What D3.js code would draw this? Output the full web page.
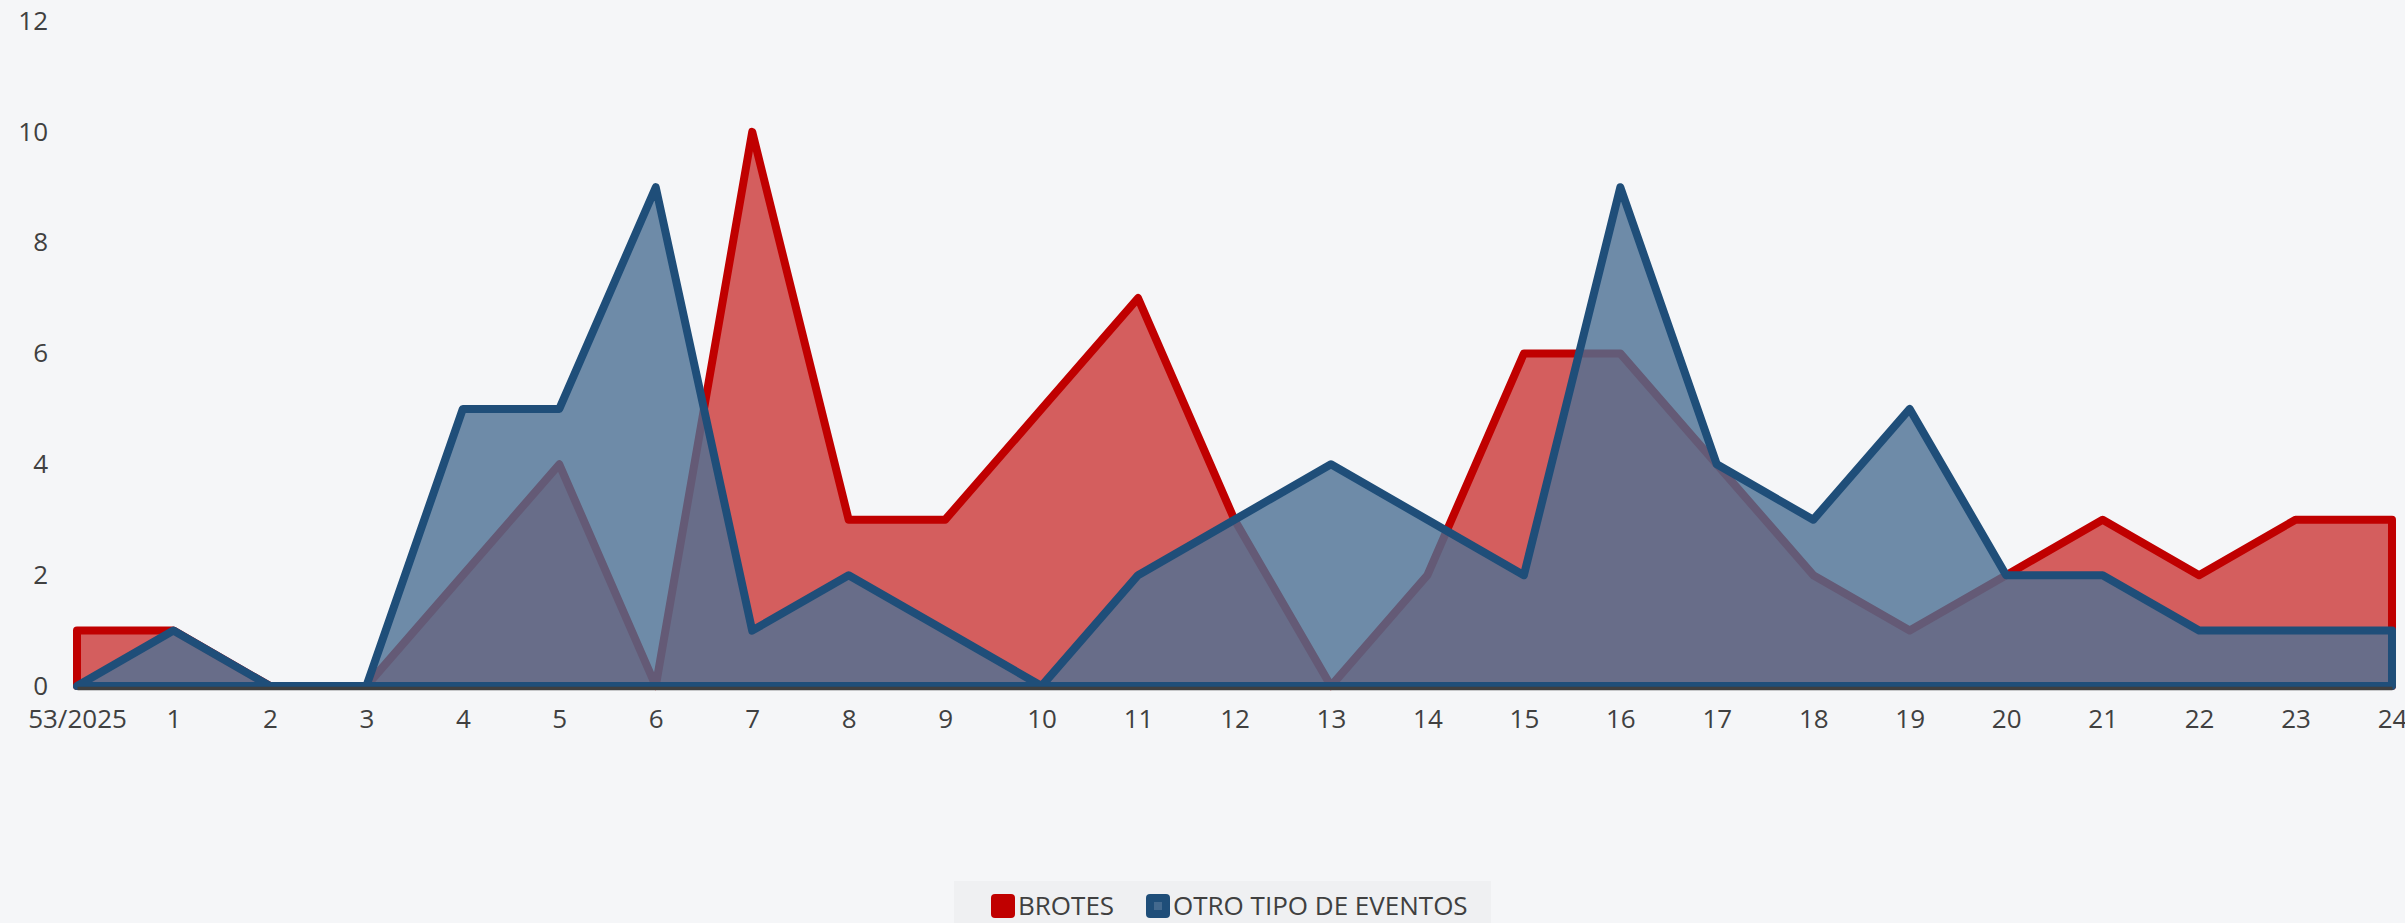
<!DOCTYPE html>
<html>
<head>
<meta charset="utf-8">
<script src="https://cdn.jsdelivr.net/npm/d3@7"></script>
<style>
  body { margin: 0; background: #f5f6f8; }
  svg { display: block; }
  text { font-family: "Open Sans", sans-serif; fill: #404040; }
</style>
</head>
<body>
<svg id="drawing_region"></svg>
<script>
// weeks on the x axis
const weeks = ["53/2025", "1", "2", "3", "4", "5", "6", "7", "8", "9", "10", "11", "12",
               "13", "14", "15", "16", "17", "18", "19", "20", "21", "22", "23", "24"];
const brotes = [1, 1, 0, 0, 2, 4, 0, 10, 3, 3, 5, 7, 3, 0, 2, 6, 6, 4, 2, 1, 2, 3, 2, 3, 3];
const otros  = [0, 1, 0, 0, 5, 5, 9, 1, 2, 1, 0, 2, 3, 4, 3, 2, 9, 4, 3, 5, 2, 2, 1, 1, 1];
const yTicks = [0, 2, 4, 6, 8, 10, 12];
const seriesNames = ["BROTES", "OTRO TIPO DE EVENTOS"];

const config = {
    width: 2405,
    height: 923,
    left: 77,
    right: 2392,
    top: 21,
    bottom: 686
};

const series = [
    { name: seriesNames[0], values: brotes, line: "#c00000", fill: "rgba(192,0,0,0.62)" },
    { name: seriesNames[1], values: otros,  line: "#1f4e79", fill: "rgba(76,112,148,0.8)" }
];

const svg = d3.select('#drawing_region')
    .attr('width', config.width)
    .attr('height', config.height);

const xscale = d3.scalePoint()
    .domain(weeks)
    .range([config.left, config.right]);

const yscale = d3.scaleLinear()
    .domain([0, 12])
    .range([config.bottom, config.top]);

const area = d3.area()
    .x((d, i) => xscale(weeks[i]))
    .y0(yscale(0))
    .y1(d => yscale(d));

// areas, red first, blue over it
svg.selectAll('path.area')
    .data(series)
    .enter()
    .append('path')
    .attr('class', 'area')
    .attr('d', d => area(d.values))
    .attr('fill', d => d.fill)
    .attr('stroke', d => d.line)
    .attr('stroke-width', 8)
    .attr('stroke-linejoin', 'round');

// x axis
const xaxis = d3.axisBottom(xscale).tickSize(0).tickPadding(22);
const gx = svg.append('g')
    .attr('transform', `translate(0, ${yscale(0) + 2})`)
    .call(xaxis);
gx.select('.domain')
    .attr('stroke', '#3f3f3f')
    .attr('stroke-width', 3.5);
gx.selectAll('text')
    .attr('font-size', 26)
    .style('fill', '#404040');

// y axis labels only
const yaxis = d3.axisLeft(yscale).tickValues(yTicks).tickSize(0).tickPadding(0);
const gy = svg.append('g')
    .attr('transform', `translate(48, 0)`)
    .call(yaxis);
gy.select('.domain').remove();
gy.selectAll('text')
    .attr('font-size', 26)
    .style('fill', '#404040');

// legend
const legend = svg.append('g');
legend.append('rect')
    .attr('x', 954).attr('y', 881)
    .attr('width', 537).attr('height', 42)
    .attr('fill', '#eff0f2');

const legendX = [991, 1146];
const item = legend.selectAll('g.item')
    .data(series)
    .enter()
    .append('g')
    .attr('class', 'item')
    .attr('transform', (d, i) => `translate(${legendX[i]}, 894)`);

item.append('rect')
    .attr('width', 24).attr('height', 24)
    .attr('rx', 4)
    .attr('fill', d => d.line);
item.append('rect')
    .attr('x', 8).attr('y', 8)
    .attr('width', 8).attr('height', 8)
    .attr('fill', d => d.fill);
item.append('text')
    .attr('x', 27)
    .attr('y', 12)
    .attr('dy', '0.35em')
    .attr('font-size', 26)
    .text(d => d.name);
</script>
</body>
</html>
